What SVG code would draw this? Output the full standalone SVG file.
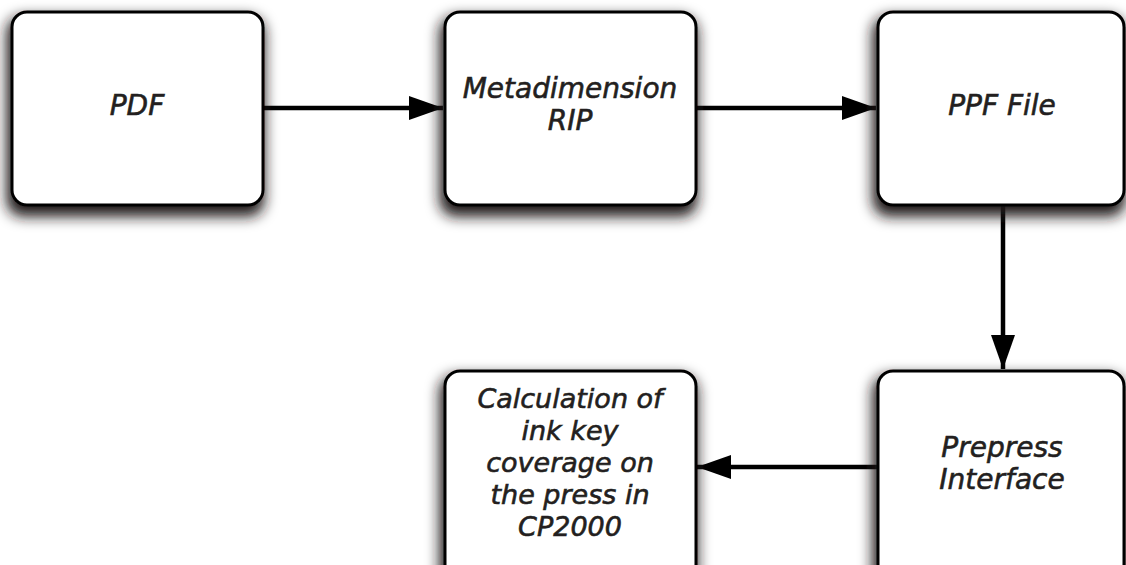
<svg xmlns="http://www.w3.org/2000/svg" width="1126" height="565" viewBox="0 0 1126 565">
<style>
.box{fill:#fff;stroke:#000;stroke-width:3;filter:url(#sh)}
.lbl{font-family:"DejaVu Sans","Noto Sans",sans-serif;font-style:italic;font-weight:normal;font-size:28px;fill:#231f20;stroke:#231f20;stroke-width:0.6;text-anchor:middle}
.sm{font-size:27px}
.conn{stroke:#000;stroke-width:4.5;fill:none;marker-end:url(#ah)}
</style>
<defs>
<filter id="sh" x="-20%" y="-20%" width="140%" height="150%">
<feMorphology in="SourceAlpha" operator="dilate" radius="2" result="d"/>
<feGaussianBlur in="d" stdDeviation="7"/>
<feOffset dx="-2" dy="8" result="b"/>
<feFlood flood-color="#1e1818"/>
<feComposite in2="b" operator="in"/>
<feMerge><feMergeNode/><feMergeNode in="SourceGraphic"/></feMerge>
</filter>
<marker id="ah" markerUnits="userSpaceOnUse" markerWidth="36" markerHeight="26" refX="34" refY="13" orient="auto">
<path d="M0,1 L34,13 L0,25 Z" fill="#000"/>
</marker>
</defs>
<rect width="1126" height="565" fill="#fff"/>
<g id="connectors">
<line class="conn" x1="263" y1="108" x2="443" y2="108"/>
<line class="conn" x1="696" y1="108" x2="876" y2="108"/>
<line class="conn" x1="1003" y1="205" x2="1003" y2="369"/>
<line class="conn" x1="877" y1="467" x2="697" y2="467"/>
</g>
<g id="pdf">
<rect class="box" x="12" y="12" width="251" height="193" rx="15"/>
<text class="lbl" x="137" y="115">PDF</text>
</g>
<g id="rip">
<rect class="box" x="445" y="12" width="251" height="193" rx="15"/>
<text class="lbl" x="570" y="98">Metadimension</text>
<text class="lbl" x="570" y="130">RIP</text>
</g>
<g id="ppf">
<rect class="box" x="878" y="12" width="246" height="193" rx="15"/>
<text class="lbl" x="1002" y="115">PPF File</text>
</g>
<g id="calc">
<rect class="box" x="445" y="371" width="251" height="210" rx="15"/>
<text class="lbl sm" x="570" y="408">Calculation of</text>
<text class="lbl sm" x="570" y="440">ink key</text>
<text class="lbl sm" x="570" y="472">coverage on</text>
<text class="lbl sm" x="570" y="504">the press in</text>
<text class="lbl sm" x="570" y="536">CP2000</text>
</g>
<g id="prepress">
<rect class="box" x="878" y="371" width="246" height="210" rx="15"/>
<text class="lbl" x="1002" y="457">Prepress</text>
<text class="lbl" x="1002" y="489">Interface</text>
</g>
</svg>
